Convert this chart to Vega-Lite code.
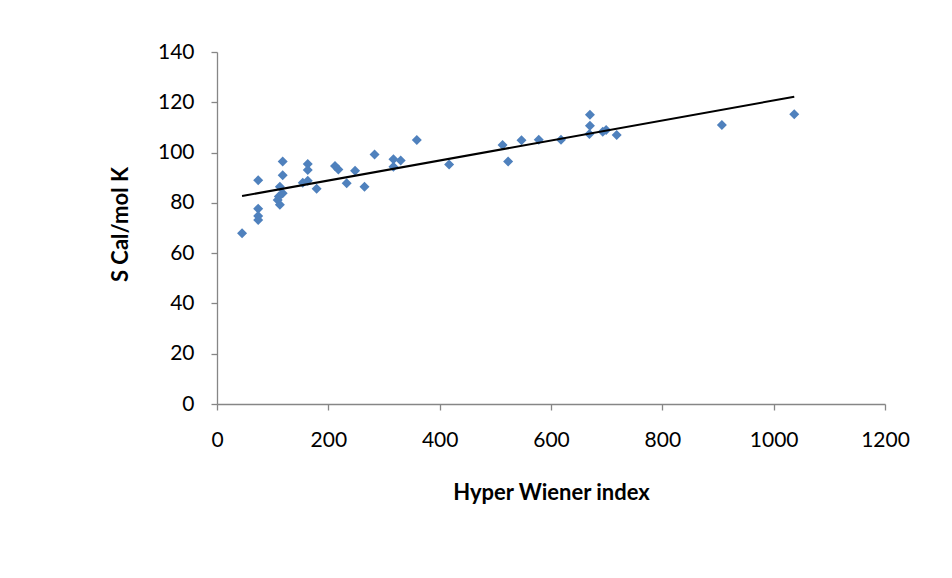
{
  "$schema": "https://vega.github.io/schema/vega-lite/v6.json",
  "width": 668,
  "height": 352,
  "autosize": {"type": "none"},
  "padding": {"left": 217, "top": 52, "right": 67, "bottom": 174},
  "background": "white",
  "config": {"view": {"stroke": null}, "font": "Lato"},
  "data": {"values": [
    {"hwi": 45, "s": 67.9},
    {"hwi": 74, "s": 89.0},
    {"hwi": 74, "s": 77.7},
    {"hwi": 74, "s": 74.8},
    {"hwi": 74, "s": 73.2},
    {"hwi": 118, "s": 96.4},
    {"hwi": 118, "s": 91.0},
    {"hwi": 113, "s": 86.4},
    {"hwi": 118, "s": 83.8},
    {"hwi": 111, "s": 82.5},
    {"hwi": 109, "s": 81.1},
    {"hwi": 113, "s": 79.2},
    {"hwi": 163, "s": 95.5},
    {"hwi": 163, "s": 93.1},
    {"hwi": 154, "s": 88.0},
    {"hwi": 163, "s": 88.8},
    {"hwi": 179, "s": 85.6},
    {"hwi": 212, "s": 94.7},
    {"hwi": 218, "s": 93.3},
    {"hwi": 233, "s": 87.8},
    {"hwi": 248, "s": 92.8},
    {"hwi": 265, "s": 86.4},
    {"hwi": 283, "s": 99.2},
    {"hwi": 317, "s": 97.3},
    {"hwi": 317, "s": 94.4},
    {"hwi": 330, "s": 96.8},
    {"hwi": 359, "s": 105.0},
    {"hwi": 417, "s": 95.3},
    {"hwi": 513, "s": 103.0},
    {"hwi": 523, "s": 96.4},
    {"hwi": 547, "s": 104.9},
    {"hwi": 578, "s": 105.1},
    {"hwi": 618, "s": 105.1},
    {"hwi": 670, "s": 115.0},
    {"hwi": 670, "s": 110.7},
    {"hwi": 669, "s": 107.4},
    {"hwi": 693, "s": 108.3},
    {"hwi": 699, "s": 109.0},
    {"hwi": 718, "s": 107.0},
    {"hwi": 907, "s": 111.0},
    {"hwi": 1037, "s": 115.2}
  ]},
  "layer": [
    {
      "mark": {"type": "point", "shape": "diamond", "filled": true, "size": 100, "color": "#4F81BD", "opacity": 1},
      "encoding": {
        "x": {
          "field": "hwi", "type": "quantitative", "title": "Hyper Wiener index",
          "scale": {"domain": [0, 1200], "nice": false},
          "axis": {
            "values": [0, 200, 400, 600, 800, 1000, 1200], "format": "d",
            "grid": false, "domainColor": "#868686", "domainWidth": 1.3,
            "tickColor": "#868686", "tickSize": 6, "tickWidth": 1.3,
            "labelFont": "Lato", "labelFontSize": 21, "labelColor": "#000000",
            "labelPadding": 19, "labelFlush": false, "labelOverlap": false,
            "titleFont": "Lato", "titleFontSize": 22, "titleFontWeight": "bold", "titleColor": "#000000",
            "titleX": 334, "titleY": 88, "titleBaseline": "middle", "titleAlign": "center"
          }
        },
        "y": {
          "field": "s", "type": "quantitative", "title": "S Cal/mol K",
          "scale": {"domain": [0, 140], "nice": false},
          "axis": {
            "values": [0, 20, 40, 60, 80, 100, 120, 140],
            "grid": false, "domainColor": "#868686", "domainWidth": 1.3,
            "tickColor": "#868686", "tickSize": 6, "tickWidth": 1.3,
            "labelFont": "Lato", "labelFontSize": 21, "labelColor": "#000000",
            "labelPadding": 17, "labelFlush": false, "labelOverlap": false,
            "titleFont": "Lato", "titleFontSize": 22, "titleFontWeight": "bold", "titleColor": "#000000",
            "titleAngle": 270, "titleX": -97, "titleY": 172, "titleBaseline": "middle", "titleAlign": "center"
          }
        }
      }
    },
    {
      "transform": [{"regression": "s", "on": "hwi"}],
      "mark": {"type": "line", "color": "#000000", "strokeWidth": 2},
      "encoding": {
        "x": {"field": "hwi", "type": "quantitative"},
        "y": {"field": "s", "type": "quantitative"}
      }
    }
  ]
}
